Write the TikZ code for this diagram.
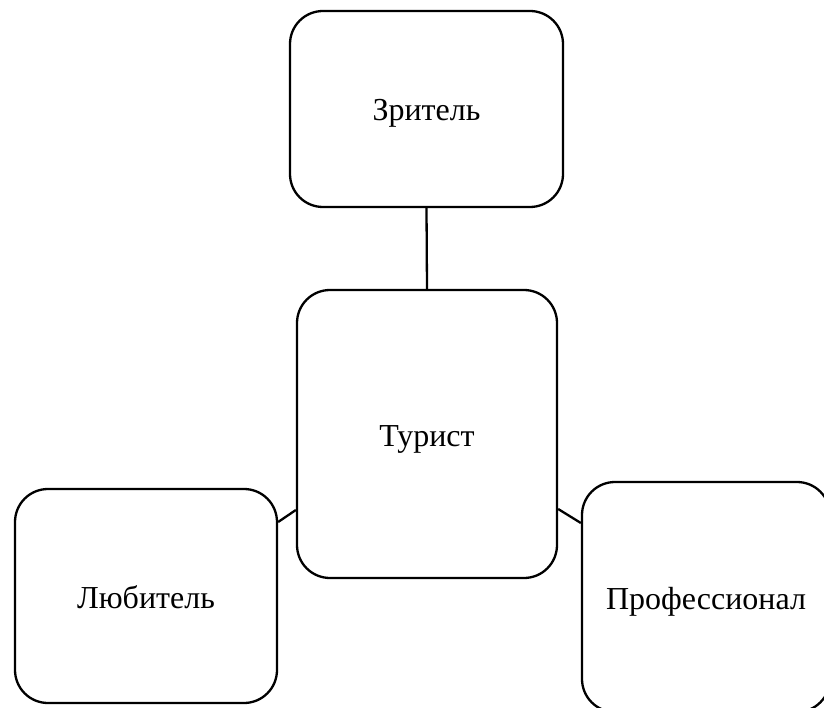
\documentclass[tikz,border=0pt]{standalone}
\usepackage{fontspec}
\setmainfont{Liberation Serif}
\begin{document}
\begin{tikzpicture}[x=1pt,y=-1pt,
  box/.style={draw,line width=2.3pt,rounded corners=33pt,inner sep=0pt,
    text height=46pt,text depth=22pt,
    font=\fontsize{32}{38}\selectfont},
  link/.style={line width=2.3pt}]
\clip (0,0) rectangle (824,708);
\useasboundingbox (0,0) rectangle (824,708);
\fill[white] (0,0) rectangle (824,708);
\node[box,minimum width=273pt,minimum height=196pt] (zr) at (426.5,109) {Зритель};
\node[box,minimum width=260pt,minimum height=288pt] (tur) at (427,434) {Турист};
\node[box,minimum width=262pt,minimum height=214pt] (lub) at (146,596) {Любитель};
\node[box,minimum width=248pt,minimum height=230pt] (prof) at (706,597) {Профессионал};
\draw[link] (zr.south) -- (tur.north);
\draw[link] ([yshift=74pt]lub.east) -- ([yshift=-76pt]tur.west);
\draw[link] ([yshift=-75pt]tur.east) -- ([yshift=74pt]prof.west);
\end{tikzpicture}
\end{document}
